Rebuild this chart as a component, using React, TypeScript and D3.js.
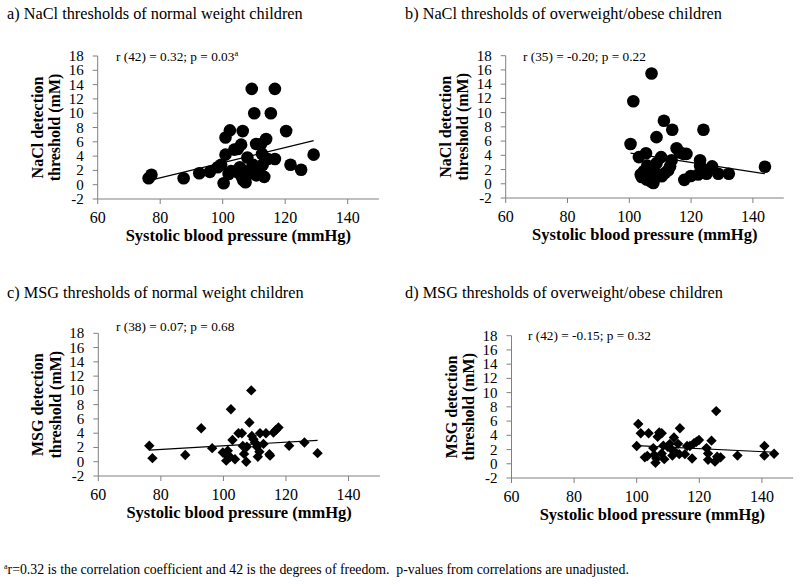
import React from "react";
import * as d3 from "d3";

// ---------- data ----------
const xTicks = [60, 80, 100, 120, 140];
const yTicks = [-2, 0, 2, 4, 6, 8, 10, 12, 14, 16, 18];
const xDomain = [60, 150];
const yDomain = [-2, 18];

const titles = [
  "a) NaCl thresholds of normal weight children",
  "b) NaCl thresholds of overweight/obese children",
  "c) MSG thresholds of normal weight children",
  "d) MSG thresholds of overweight/obese children",
];
const annotations = [
  "r (42) = 0.32; p = 0.03",
  "r (35) = -0.20; p = 0.22",
  "r (38) = 0.07; p = 0.68",
  "r (42) = -0.15; p = 0.32",
];
const annotationSup = ["a", "", "", ""];
const yLabels = [
  ["NaCl detection", "threshold (mM)"],
  ["NaCl detection", "threshold (mM)"],
  ["MSG detection", "threshold (mM)"],
  ["MSG detection", "threshold (mM)"],
];
const xLabel = "Systolic blood pressure (mmHg)";
const footnote =
  "r=0.32 is the correlation coefficient and 42 is the degrees of freedom.  p-values from correlations are unadjusted.";

// a) NaCl, normal weight
const aX = [76.3, 77.2, 87.5, 92.5, 95.9, 98.4, 99.5, 100.3, 100.9, 100.9, 102.3, 101.9, 102.7, 103.7, 104.8, 105.9, 106.4, 104.8, 105.5, 106.2, 106.6, 107.3, 107.9, 108.1, 109.3, 109.4, 109.6, 110.1, 110.7, 110.7, 111.7, 112.3, 112.6, 112.8, 113.3, 113.9, 114.4, 115.4, 116.7, 116.7, 120.3, 121.7, 125.1, 129.1];
const aY = [0.9, 1.4, 0.9, 1.6, 1.8, 2.45, 2.8, 0.2, 4.2, 6.6, 7.6, 1.5, 1.9, 4.9, 5.0, 5.6, 7.5, 1.75, 2.45, 1.05, 0.6, 0.35, 3.8, 1.5, 13.4, 2.35, 2.8, 10.0, 5.7, 1.3, 1.75, 5.7, 4.3, 2.8, 1.1, 6.4, 3.6, 10.0, 13.4, 3.6, 7.5, 2.8, 2.1, 4.2];

// b) NaCl, overweight/obese
const bX = [100.4, 101.3, 107.2, 103.1, 105.4, 103.7, 104.0, 104.7, 105.8, 105.6, 106.5, 106.9, 107.8, 107.8, 108.6, 108.8, 108.8, 110.3, 110.5, 111.2, 111.5, 112.6, 113.2, 113.7, 113.9, 115.3, 116.4, 117.5, 118.5, 117.8, 119.9, 122.3, 122.9, 122.9, 124.0, 125.0, 126.8, 128.8, 132.2, 143.9];
const bY = [5.6, 11.6, 15.5, 3.75, 4.3, 1.3, 0.95, 1.75, 2.55, 0.6, 1.1, 0.35, 0.1, 1.3, 1.5, 2.9, 6.55, 3.75, 1.05, 8.85, 1.5, 1.9, 2.45, 3.3, 7.6, 5.0, 4.4, 4.2, 4.2, 0.55, 1.1, 1.3, 3.3, 2.55, 7.6, 1.4, 2.45, 1.4, 1.4, 2.4];

// c) MSG, normal weight
const cX = [76.3, 77.3, 87.8, 92.9, 96.4, 99.8, 100.5, 100.9, 101.4, 102.1, 102.4, 102.9, 103.7, 104.8, 105.9, 106.2, 106.6, 107.3, 107.5, 108.3, 108.9, 109.1, 109.6, 110.1, 110.7, 111.0, 111.5, 111.7, 112.8, 113.6, 114.7, 114.9, 116.0, 116.8, 117.6, 121.0, 125.9, 130.1];
const cY = [2.25, 0.5, 0.95, 4.7, 1.9, 1.3, 1.1, 0.15, 1.55, 0.7, 7.35, 3.05, 0.35, 4.0, 4.0, 2.2, 1.1, 0.0, 2.1, 5.5, 10.0, 3.6, 3.15, 2.7, 2.1, 0.7, 1.4, 4.0, 2.5, 4.0, 1.05, 0.85, 4.1, 4.45, 4.8, 2.25, 2.7, 1.2];

// d) MSG, overweight/obese
const dX = [100.0, 100.5, 101.3, 102.6, 103.4, 103.8, 105.3, 105.6, 106.0, 106.3, 106.7, 107.2, 108.0, 108.0, 108.5, 108.8, 109.9, 110.6, 111.1, 111.4, 111.9, 112.2, 113.2, 113.6, 113.8, 115.4, 116.1, 117.0, 117.7, 118.3, 119.1, 119.9, 122.3, 122.8, 122.8, 123.9, 125.0, 125.4, 125.7, 126.8, 132.2, 140.8, 140.8, 143.9];
const dY = [2.5, 5.6, 4.3, 0.9, 1.1, 4.3, 2.2, 1.25, 0.15, 0.75, 3.8, 4.4, 4.3, 1.45, 2.55, 0.65, 2.4, 2.8, 2.05, 1.15, 3.7, 1.7, 2.8, 1.35, 5.0, 1.35, 2.5, 2.5, 0.75, 2.9, 3.1, 3.35, 2.2, 1.45, 0.55, 3.25, 0.3, 7.4, 1.0, 0.9, 1.15, 2.5, 1.15, 1.4];

// linear trend (slope, intercept)
const trendSlope = [0.1057, -0.0665, 0.0253, -0.0212];
const trendIntercept = [-7.49, 10.98, -0.29, 4.67];

const seriesX = [aX, bX, cX, dX];
const seriesY = [aY, bY, cY, dY];
const markers = ["circle", "circle", "diamond", "diamond"];

// ---------- layout ----------
const layout = [
  { x0: 97.7, y0: 56, y1: 199, titleX: 7, titleY: 19, annX: 116, annY: 61 },
  { x0: 505.7, y0: 55.7, y1: 198, titleX: 405, titleY: 19, annX: 523, annY: 61 },
  { x0: 98.3, y0: 333.3, y1: 476, titleX: 7, titleY: 298, annX: 116, annY: 331 },
  { x0: 511.5, y0: 335.7, y1: 478, titleX: 405, titleY: 298, annX: 528, annY: 340 },
];
const pxPerUnit = [3.125, 3.09, 3.128, 3.13];

const FONT = "'Liberation Serif', 'Times New Roman', serif";
const AXIS = "#808080";

function Panel({ i }: { i: number }) {
  const L = layout[i];
  const x = d3
    .scaleLinear()
    .domain(xDomain)
    .range([L.x0, L.x0 + (xDomain[1] - xDomain[0]) * pxPerUnit[i]]);
  const y = d3.scaleLinear().domain(yDomain).range([L.y1, L.y0]);
  const xs = seriesX[i];
  const ys = seriesY[i];
  const xMin = d3.min(xs) as number;
  const xMax = d3.max(xs) as number;
  const f = (v: number) => trendSlope[i] * v + trendIntercept[i];
  const line = d3.line<number>().x((d) => x(d)).y((d) => y(f(d)));
  const yMid = (L.y0 + L.y1) / 2;
  const xMid = (x.range()[0] + x.range()[1]) / 2;
  const diamond = (cx: number, cy: number, r: number) =>
    `M${cx},${cy - r}L${cx + r},${cy}L${cx},${cy + r}L${cx - r},${cy}Z`;

  return (
    <g fontFamily={FONT}>
      <text x={L.titleX} y={L.titleY} fontSize={16.3} fill="#000">
        {titles[i]}
      </text>
      {/* y axis */}
      <line x1={L.x0} x2={L.x0} y1={y(18)} y2={y(-2)} stroke={AXIS} />
      {yTicks.map((t) => (
        <g key={"y" + t}>
          <line x1={L.x0 - 5} x2={L.x0} y1={y(t)} y2={y(t)} stroke={AXIS} />
          <text x={L.x0 - 14} y={y(t) + 5} fontSize={15} textAnchor="end" fill="#000">
            {t}
          </text>
        </g>
      ))}
      {/* x axis */}
      <line x1={x(xDomain[0])} x2={x(xDomain[1])} y1={y(-2)} y2={y(-2)} stroke={AXIS} />
      {xTicks.map((t) => (
        <g key={"x" + t}>
          <line x1={x(t)} x2={x(t)} y1={y(-2)} y2={y(-2) + 5} stroke={AXIS} />
          <text x={x(t)} y={y(-2) + 24} fontSize={16} textAnchor="middle" fill="#000">
            {t}
          </text>
        </g>
      ))}
      <text x={xMid} y={y(-2) + 42} fontSize={16.5} fontWeight="bold" textAnchor="middle" fill="#000">
        {xLabel}
      </text>
      {/* y label */}
      <text
        transform={`translate(${L.x0 - 55},${yMid}) rotate(-90)`}
        fontSize={16}
        fontWeight="bold"
        textAnchor="middle"
        fill="#000"
      >
        {yLabels[i][0]}
      </text>
      <text
        transform={`translate(${L.x0 - 37.5},${yMid}) rotate(-90)`}
        fontSize={16}
        fontWeight="bold"
        textAnchor="middle"
        fill="#000"
      >
        {yLabels[i][1]}
      </text>
      {/* annotation */}
      <text x={L.annX} y={L.annY} fontSize={13.3} fill="#000">
        {annotations[i]}
        {annotationSup[i] ? (
          <tspan dy={-5} fontSize={8.5}>
            {annotationSup[i]}
          </tspan>
        ) : null}
      </text>
      {/* points */}
      {xs.map((v, k) =>
        markers[i] === "circle" ? (
          <circle key={k} cx={x(v)} cy={y(ys[k])} r={6.3} fill="#000" />
        ) : (
          <path key={k} d={diamond(x(v), y(ys[k]), 5.2)} fill="#000" />
        )
      )}
      {/* trend */}
      <path d={line([xMin, xMax]) || ""} stroke="#000" strokeWidth={1.2} fill="none" />
    </g>
  );
}

export default function App() {
  return (
    <svg
      width={800}
      height={585}
      style={{ position: "absolute", left: 0, top: 0, background: "#fff" }}
    >
      <rect width={800} height={585} fill="#fff" />
      {[0, 1, 2, 3].map((i) => (
        <Panel key={i} i={i} />
      ))}
      <text x={4} y={574} fontFamily={FONT} fontSize={13.8} fill="#000" style={{ whiteSpace: "pre" }}>
        <tspan fontSize={8} dy={-5}>a</tspan>
        <tspan dy={5}>{footnote}</tspan>
      </text>
    </svg>
  );
}
